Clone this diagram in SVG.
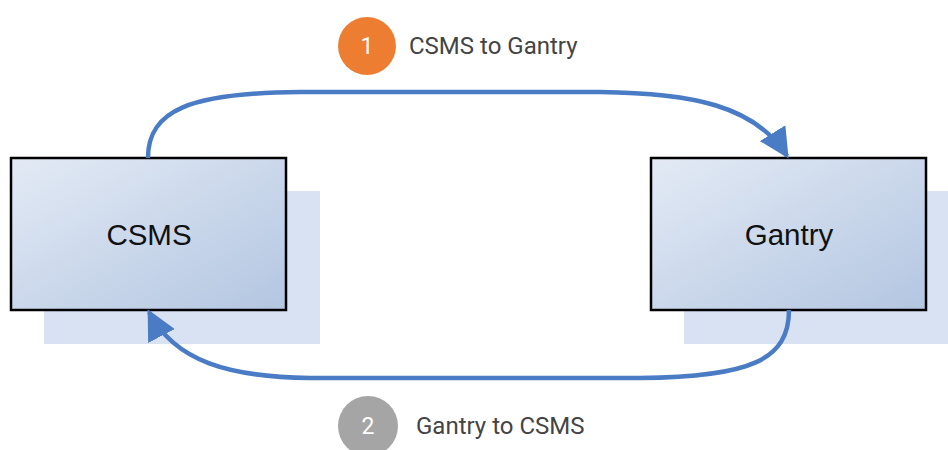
<svg xmlns="http://www.w3.org/2000/svg" width="948" height="450" viewBox="0 0 948 450">
<defs>
<linearGradient id="boxGrad" x1="0" y1="0" x2="1" y2="1">
<stop offset="0" stop-color="#e3eaf5"/>
<stop offset="1" stop-color="#b3c6e1"/>
</linearGradient>
<marker id="arrow" viewBox="0 0 10 10" refX="9" refY="5" markerWidth="30" markerHeight="30" markerUnits="userSpaceOnUse" orient="auto">
<path d="M0,0 L10,5 L0,10 z" fill="#4a7bc5"/>
</marker>
<style>
.shadow{fill:#d9e2f2}
.box{fill:url(#boxGrad);stroke:#000;stroke-width:2.5}
.label{font-family:"Liberation Sans",Arial,sans-serif;font-size:29.5px;fill:#111;text-anchor:middle}
.conn{fill:none;stroke:#4a7bc5;stroke-width:4.5}
.cap{font-family:Roboto,"Liberation Sans",sans-serif;font-size:24px;fill:#444}
.num{font-family:Roboto,"Liberation Sans",sans-serif;font-size:23px;fill:#fff;text-anchor:middle}
</style>
</defs>
<rect width="948" height="450" fill="#fff"/>
<g id="csms">
<rect class="shadow" x="44" y="191" width="276" height="153"/>
<rect class="box" x="11" y="158" width="275" height="152"/>
<text class="label" x="149" y="245">CSMS</text>
</g>
<g id="gantry">
<rect class="shadow" x="684" y="191" width="264" height="153"/>
<rect class="box" x="651" y="158" width="275" height="152"/>
<text class="label" x="789" y="245">Gantry</text>
</g>
<g id="connectors">
<path class="conn" d="M148,158 C148,110 190,93 300,92 L600,92 C690,93 755,105 787,156" marker-end="url(#arrow)"/>
<path class="conn" d="M789,310 C789,360 750,377 640,378 L310,378 C230,377 175,362 149,312" marker-end="url(#arrow)"/>
</g>
<g id="step1">
<circle cx="367" cy="46" r="29" fill="#ed7d31"/>
<text class="num" x="367" y="54">1</text>
<text class="cap" x="409" y="54">CSMS to Gantry</text>
</g>
<g id="step2">
<circle cx="368" cy="426" r="30" fill="#a5a5a5"/>
<text class="num" x="368" y="434">2</text>
<text class="cap" x="416" y="434">Gantry to CSMS</text>
</g>
</svg>
